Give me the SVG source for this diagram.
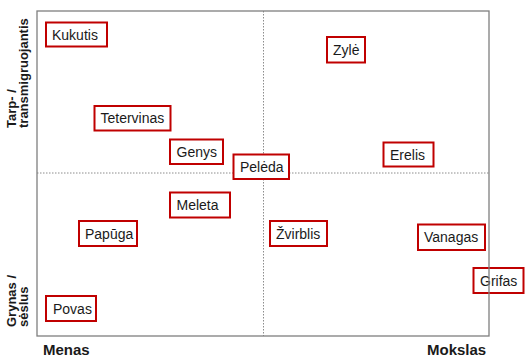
<svg xmlns="http://www.w3.org/2000/svg" width="530" height="364" viewBox="0 0 530 364">
<style>
.bg{fill:#ffffff}
.frame{fill:none;stroke:#7f7f7f;stroke-width:1.3}
.grid{stroke:#8c8c8c;stroke-width:1;stroke-dasharray:1.5 1.5;fill:none}
.box{fill:#ffffff;stroke:#c00000;stroke-width:2}
.lbl{font-family:"Liberation Sans",Arial,sans-serif;font-size:14px;fill:#1a1a1a}
.ax{font-family:"Liberation Sans",Arial,sans-serif;font-weight:bold;font-size:15px;fill:#1a1a1a}
.ay{font-family:"Liberation Sans",Arial,sans-serif;font-weight:bold;font-size:13px;fill:#1a1a1a}
</style>
<rect class="bg" x="0" y="0" width="530" height="364"/>
<g id="connectors">
<line class="grid" x1="37" y1="173" x2="489" y2="173"/>
<line class="grid" x1="263.5" y1="11" x2="263.5" y2="336"/>
</g>
<g id="kukutis"><rect class="box" x="46" y="22.5" width="61" height="24"/><text class="lbl" x="52" y="39.5">Kukutis</text></g>
<g id="tetervinas"><rect class="box" x="94.5" y="106" width="76" height="24.5"/><text class="lbl" x="100.5" y="123.3">Tetervinas</text></g>
<g id="genys"><rect class="box" x="170" y="139.5" width="53" height="24.5"/><text class="lbl" x="176.5" y="156.8">Genys</text></g>
<g id="peleda"><rect class="box" x="233.5" y="154.5" width="55.5" height="24.5"/><text class="lbl" x="240" y="171.8">Pelėda</text></g>
<g id="zyle"><rect class="box" x="327" y="37" width="38" height="25.5"/><text class="lbl" x="333" y="54.8">Zylė</text></g>
<g id="erelis"><rect class="box" x="383.5" y="142.5" width="50" height="24"/><text class="lbl" x="390" y="159.5">Erelis</text></g>
<g id="meleta"><rect class="box" x="170" y="192.5" width="60" height="25"/><text class="lbl" x="176.5" y="210">Meleta</text></g>
<g id="papuga"><rect class="box" x="79" y="221" width="58" height="25"/><text class="lbl" x="85" y="238.5">Papūga</text></g>
<g id="povas"><rect class="box" x="46" y="296" width="50" height="25"/><text class="lbl" x="53" y="313.5">Povas</text></g>
<g id="zvirblis"><rect class="box" x="270" y="221" width="57" height="25"/><text class="lbl" x="276" y="238.5">Žvirblis</text></g>
<g id="vanagas"><rect class="box" x="418" y="224.5" width="67" height="25.5"/><text class="lbl" x="424" y="242.3">Vanagas</text></g>
<g id="grifas"><rect class="box" x="473.5" y="268" width="50" height="25"/><text class="lbl" x="480" y="285.5">Grifas</text></g>
<rect class="frame" x="37" y="11" width="452" height="325"/>
<text class="ax" x="43" y="355">Menas</text>
<text class="ax" x="427" y="355">Mokslas</text>
<text class="ay" transform="translate(16,128) rotate(-90)">Tarp- /</text>
<text class="ay" transform="translate(27.5,128) rotate(-90)">transmigruojantis</text>
<text class="ay" transform="translate(16,327) rotate(-90)">Grynas /</text>
<text class="ay" transform="translate(27.5,327) rotate(-90)">sėslus</text>
</svg>
